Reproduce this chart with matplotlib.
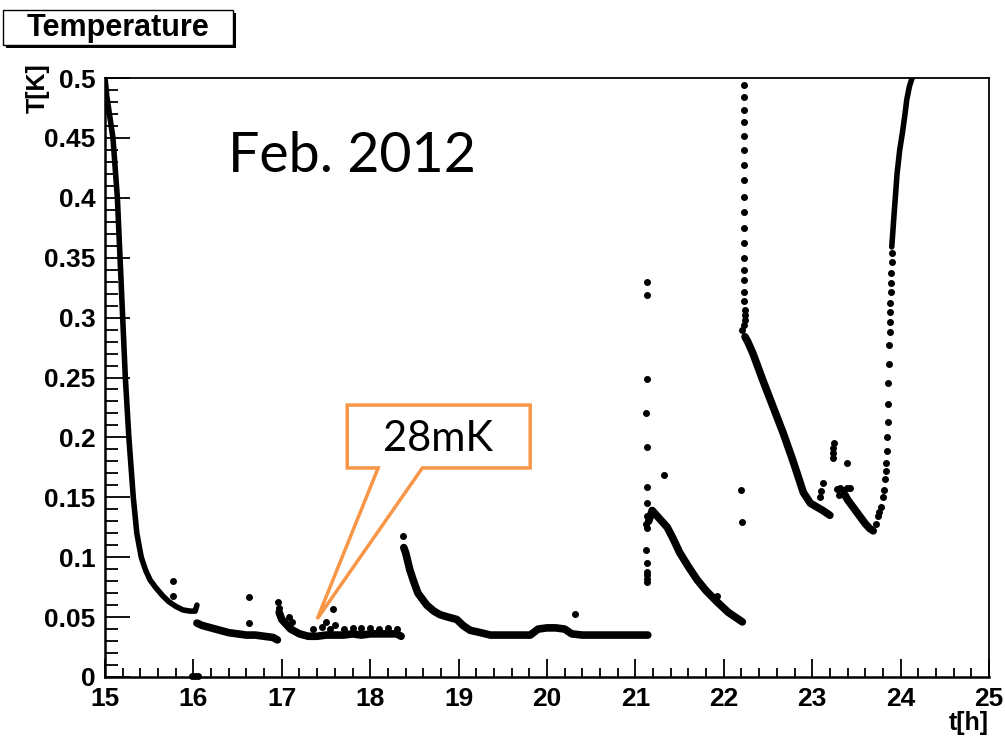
import numpy as np
import matplotlib.pyplot as plt
from matplotlib.patches import Rectangle, Polygon
from matplotlib.ticker import MultipleLocator, FuncFormatter

# dense parts of the temperature log (drawn as thick trace)
t_cool = [15.00, 15.02, 15.05, 15.09, 15.14, 15.17, 15.20, 15.23, 15.27, 15.32, 15.36,
          15.41, 15.46, 15.51, 15.57, 15.65, 15.72, 15.80, 15.88, 15.96, 16.02, 16.04]
T_cool = [0.500, 0.485, 0.470, 0.450, 0.400, 0.350, 0.300, 0.250, 0.200, 0.150, 0.120,
          0.100, 0.089, 0.081, 0.075, 0.068, 0.063, 0.059, 0.056, 0.055, 0.055, 0.060]

t_base1 = [16.04, 16.10, 16.20, 16.30, 16.40, 16.50, 16.60, 16.70, 16.80, 16.90, 16.95]
T_base1 = [0.045, 0.043, 0.041, 0.039, 0.037, 0.036, 0.035, 0.035, 0.034, 0.033, 0.031]

t_base2 = [16.97, 17.00, 17.05, 17.10, 17.20, 17.30, 17.40, 17.50, 17.60, 17.70, 17.80,
           17.90, 18.00, 18.10, 18.20, 18.30, 18.35]
T_base2 = [0.054, 0.048, 0.044, 0.040, 0.036, 0.034, 0.034, 0.035, 0.035, 0.035, 0.036,
           0.035, 0.036, 0.036, 0.036, 0.036, 0.034]

t_base3 = [18.38, 18.40, 18.45, 18.50, 18.54, 18.60, 18.64, 18.72, 18.79, 18.88, 18.98,
           19.05, 19.13, 19.25, 19.36, 19.50, 19.65, 19.81, 19.90, 20.00, 20.10, 20.20,
           20.28, 20.40, 20.60, 20.80, 21.00, 21.14]
T_base3 = [0.108, 0.104, 0.089, 0.078, 0.070, 0.064, 0.060, 0.055, 0.052, 0.050, 0.048,
           0.043, 0.039, 0.037, 0.035, 0.035, 0.035, 0.035, 0.040, 0.041, 0.041, 0.040,
           0.036, 0.035, 0.035, 0.035, 0.035, 0.035]

t_warm1 = [21.15, 21.19, 21.25, 21.36, 21.43, 21.50, 21.60, 21.70, 21.80, 21.92, 22.05,
           22.15, 22.21]
T_warm1 = [0.130, 0.139, 0.134, 0.125, 0.115, 0.104, 0.092, 0.081, 0.072, 0.063, 0.054,
           0.049, 0.046]

t_warm2 = [22.24, 22.27, 22.33, 22.44, 22.56, 22.67, 22.78, 22.90, 22.98, 23.05, 23.12, 23.20]
T_warm2 = [0.284, 0.280, 0.270, 0.248, 0.225, 0.204, 0.181, 0.154, 0.145, 0.142, 0.139, 0.135]

t_warm3 = [23.37, 23.40, 23.45, 23.50, 23.55, 23.60, 23.65, 23.69]
T_warm3 = [0.152, 0.148, 0.143, 0.138, 0.133, 0.128, 0.124, 0.122]

t_rise = [23.90, 23.93, 23.96, 23.99, 24.02, 24.05, 24.07, 24.10, 24.13]
T_rise = [0.359, 0.390, 0.420, 0.440, 0.454, 0.470, 0.482, 0.493, 0.500]

# sparse readings (single points)
t_pts = [15.77, 15.77, 15.98, 16.02, 16.05, 16.63, 16.63, 16.96, 16.97, 17.08, 17.12,
         17.35, 17.45, 17.50, 17.55, 17.58, 17.60, 17.70, 17.80, 17.90, 18.00, 18.10,
         18.20, 18.30, 18.37, 20.32,
         21.13, 21.13, 21.13, 21.12, 21.13, 21.13, 21.13, 21.13, 21.12, 21.13, 21.12,
         21.13, 21.13, 21.13, 21.13, 21.13, 21.32, 21.92,
         22.23, 22.23, 22.23, 22.23, 22.23, 22.23, 22.23, 22.23, 22.23, 22.23, 22.23,
         22.23, 22.23, 22.23, 22.23, 22.23, 22.23, 22.24, 22.24, 22.24, 22.23, 22.21,
         22.20, 22.21,
         23.09, 23.10, 23.12, 23.23, 23.24, 23.24, 23.25, 23.28, 23.30, 23.31, 23.35,
         23.39, 23.39, 23.43,
         23.72, 23.74, 23.76, 23.78, 23.80, 23.81, 23.82, 23.83, 23.835, 23.85, 23.85,
         23.855, 23.86, 23.86, 23.865, 23.87, 23.875, 23.88, 23.88, 23.885, 23.89, 23.89,
         23.895, 23.90, 23.90]
T_pts = [0.080, 0.068, 0.001, 0.001, 0.001, 0.067, 0.045, 0.063, 0.058, 0.050, 0.046,
         0.040, 0.042, 0.046, 0.040, 0.057, 0.043, 0.040, 0.041, 0.041, 0.041, 0.040,
         0.041, 0.040, 0.118, 0.053,
         0.330, 0.319, 0.249, 0.220, 0.192, 0.159, 0.145, 0.134, 0.128, 0.124, 0.106,
         0.095, 0.088, 0.085, 0.082, 0.079, 0.169, 0.068,
         0.494, 0.484, 0.473, 0.463, 0.452, 0.440, 0.427, 0.415, 0.401, 0.388, 0.375,
         0.362, 0.350, 0.340, 0.331, 0.321, 0.314, 0.306, 0.302, 0.298, 0.294, 0.290,
         0.156, 0.129,
         0.150, 0.155, 0.162, 0.183, 0.187, 0.191, 0.195, 0.157, 0.152, 0.158, 0.156,
         0.158, 0.179, 0.158,
         0.128, 0.134, 0.138, 0.142, 0.150, 0.156, 0.165, 0.172, 0.179, 0.189, 0.200,
         0.213, 0.228, 0.245, 0.261, 0.277, 0.288, 0.296, 0.305, 0.312, 0.321, 0.329,
         0.337, 0.346, 0.354]

x_ticks = [15, 16, 17, 18, 19, 20, 21, 22, 23, 24, 25]
y_ticks = [0, 0.05, 0.1, 0.15, 0.2, 0.25, 0.3, 0.35, 0.4, 0.45, 0.5]

plt.rcParams['font.family'] = ['Liberation Sans', 'DejaVu Sans']

fig = plt.figure(figsize=(10.05, 7.43), dpi=100)
ax = fig.add_axes([105 / 1005, 66 / 743, 884 / 1005, 599 / 743])

segments = [(t_base1, T_base1), (t_base2, T_base2), (t_base3, T_base3),
            (t_warm1, T_warm1), (t_warm2, T_warm2), (t_warm3, T_warm3)]
for t, T in segments:
    ax.plot(t, T, color='black', lw=5.5, solid_capstyle='round', solid_joinstyle='round')
# steep parts look thinner in the log
ax.plot(t_cool, T_cool, color='black', lw=4, solid_capstyle='round', solid_joinstyle='round')
ax.plot(t_rise, T_rise, color='black', lw=4, solid_capstyle='round', solid_joinstyle='round')
ax.plot(t_pts, T_pts, 'o', color='black', ms=4, clip_on=False)

ax.set_xlim(15, 25)
ax.set_ylim(0, 0.5)
ax.set_xticks(x_ticks)
ax.set_yticks(y_ticks)
ax.xaxis.set_minor_locator(MultipleLocator(0.2))
ax.yaxis.set_minor_locator(MultipleLocator(0.01))
ax.yaxis.set_major_formatter(FuncFormatter(lambda v, p: '{:g}'.format(round(v, 3))))
ax.tick_params(axis='both', which='both', direction='in', top=False, right=False,
               width=1.3, labelsize=19)
ax.tick_params(axis='x', which='major', length=13, pad=7)
ax.tick_params(axis='x', which='minor', length=6.5)
ax.tick_params(axis='y', which='major', length=18, pad=7)
ax.tick_params(axis='y', which='minor', length=9)
for lab in ax.get_xticklabels() + ax.get_yticklabels():
    lab.set_fontweight('bold')
ax.spines['left'].set_linewidth(1.8)
ax.spines['bottom'].set_linewidth(1.8)
ax.spines['top'].set_linewidth(1.3)
ax.spines['right'].set_linewidth(1.3)

ax.set_xlabel('t[h]', loc='right', fontsize=18, fontweight='bold', labelpad=0)
ax.set_ylabel('T[K]', loc='top', fontsize=18, fontweight='bold')
ax.yaxis.set_label_coords(-0.062, 1.025)

# histogram-style title box with shadow
fig.patches.append(Rectangle((6 / 1005, 1 - 48 / 743), 230 / 1005, 35 / 743,
                             transform=fig.transFigure, facecolor='black', edgecolor='none'))
fig.patches.append(Rectangle((3 / 1005, 1 - 45 / 743), 230 / 1005, 35 / 743,
                             transform=fig.transFigure, facecolor='white', edgecolor='black', lw=1))
fig.text(118 / 1005, 1 - 28 / 743, 'Temperature', ha='center', va='center',
         fontsize=22, fontweight='bold')

fig.text(228 / 1005, 1 - 157 / 743, 'Feb. 2012', fontsize=40, family='Lato', va='center')

# callout pointing at the base temperature
orange = '#F79646'
callout = Polygon([(17.74, 0.227), (19.81, 0.227), (19.81, 0.1745), (18.59, 0.1745),
                   (17.40, 0.0484), (18.09, 0.1745), (17.74, 0.1745)], closed=True,
                  facecolor='white', edgecolor=orange, lw=2.5, zorder=5, clip_on=False)
ax.add_patch(callout)
ax.text(18.77, 0.199, '28mK', fontsize=30, family='Lato', ha='center', va='center', zorder=6)

fig.savefig('out.png', dpi=100)
